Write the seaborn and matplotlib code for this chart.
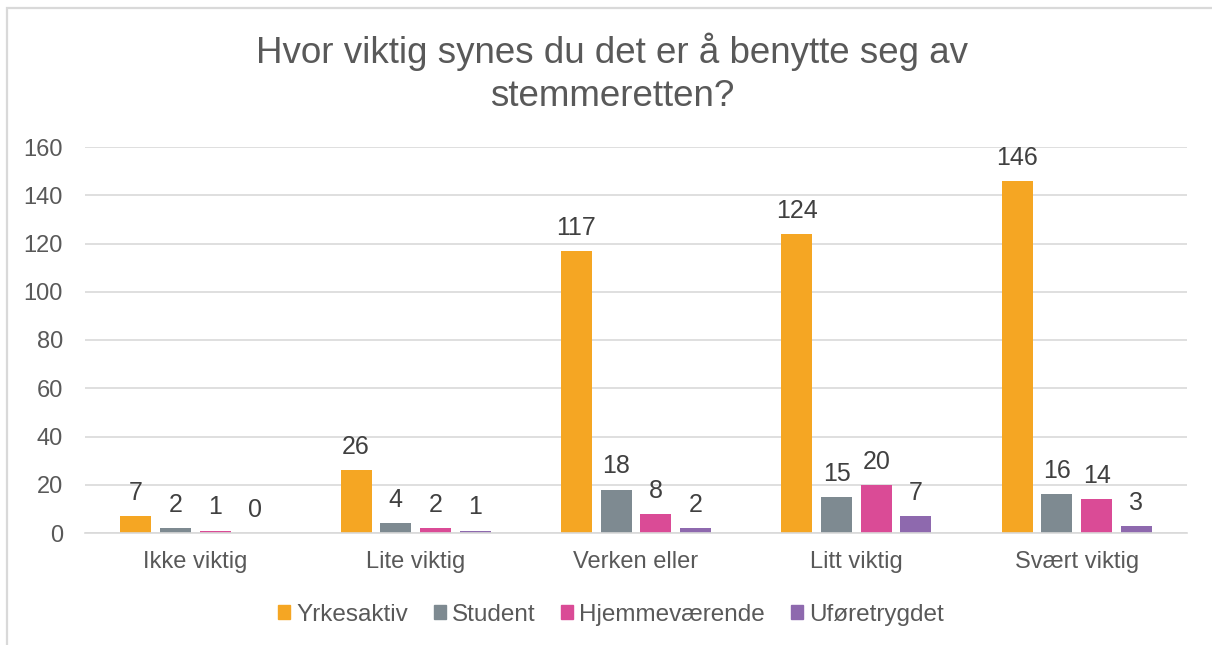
import pandas as pd
import numpy as np
import matplotlib.pyplot as plt
import matplotlib.patches as mpatches
import seaborn as sns

# Data
kategorier = ['Ikke viktig', 'Lite viktig', 'Verken eller', 'Litt viktig', 'Svært viktig']
grupper = ['Yrkesaktiv', 'Student', 'Hjemmeværende', 'Uføretrygdet']
yrkesaktiv = [7, 26, 117, 124, 146]
student = [2, 4, 18, 15, 16]
hjemmevaerende = [1, 2, 8, 20, 14]
uforetrygdet = [0, 1, 2, 7, 3]
farger = ['#F5A623', '#7E8A91', '#DA4B96', '#8E69AE']

verdier = [yrkesaktiv, student, hjemmevaerende, uforetrygdet]
rader = []
for g, v in zip(grupper, verdier):
    for k, n in zip(kategorier, v):
        rader.append({'kategori': k, 'gruppe': g, 'antall': n})
df = pd.DataFrame(rader)

# Stil
sns.set_theme(style='white')
plt.rcParams['font.family'] = ['Liberation Sans', 'DejaVu Sans']
tekstfarge = '#595959'
gridfarge = '#D9D9D9'

fig = plt.figure(figsize=(12.12, 6.45), dpi=100)
ax = fig.add_axes([85 / 1212, 1 - 533 / 645, 1102 / 1212, 386 / 645])

sns.barplot(data=df, x='kategori', y='antall', hue='gruppe', order=kategorier,
            hue_order=grupper, palette=farger, width=0.72, gap=0.22,
            saturation=1, linewidth=0, ax=ax)

for cont in ax.containers:
    ax.bar_label(cont, fmt='%d', padding=8, fontsize=18, color='#404040')

ax.set_ylim(0, 160)
ax.set_yticks(np.arange(0, 161, 20))
ax.yaxis.grid(True, color=gridfarge, linewidth=1.2)
ax.set_axisbelow(True)
for s in ['top', 'right', 'left']:
    ax.spines[s].set_visible(False)
ax.spines['bottom'].set_color(gridfarge)
ax.spines['bottom'].set_linewidth(1.2)
ax.tick_params(axis='both', length=0, labelsize=17, labelcolor=tekstfarge)
ax.tick_params(axis='y', pad=16)
ax.tick_params(axis='x', pad=13)
ax.set_xlabel('')
ax.set_ylabel('')

fig.text(0.505, 1 - 73 / 645, 'Hvor viktig synes du det er å benytte seg av\nstemmeretten?',
         ha='center', va='center', fontsize=26.5, color=tekstfarge, linespacing=1.3)

# Forklaring
handles = [mpatches.Patch(color=c, label=g) for c, g in zip(farger, grupper)]
ax.get_legend().remove()
fig.legend(handles=handles, loc='center', bbox_to_anchor=(611 / 1212, 1 - 615 / 645), ncol=4,
           frameon=False, fontsize=17.5, labelcolor=tekstfarge, handlelength=0.5,
           handleheight=0.5, handletextpad=0.25, columnspacing=1.05)

# Ramme
ramme = mpatches.Rectangle((7 / 1212, -0.1), 1.2, 1.1 - 8 / 645, transform=fig.transFigure,
                           fill=False, edgecolor=gridfarge, linewidth=1.6)
fig.add_artist(ramme)

plt.savefig('out.png', dpi=100)
plt.close()
